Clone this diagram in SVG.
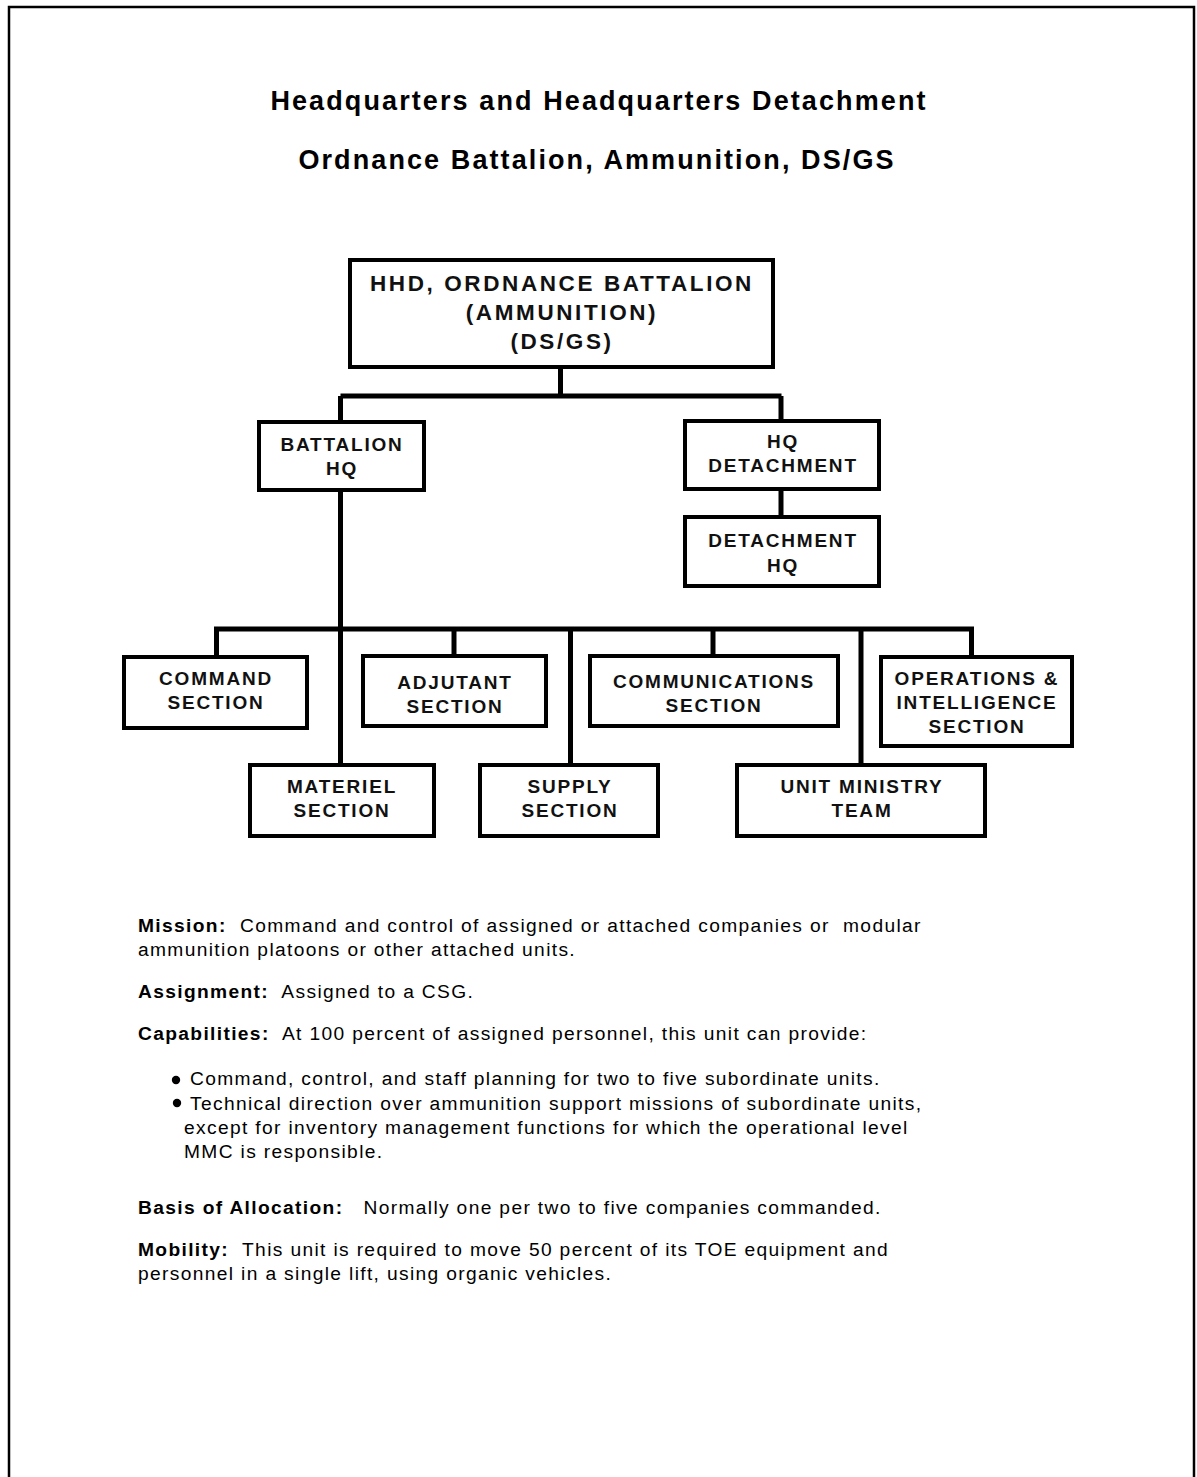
<svg xmlns="http://www.w3.org/2000/svg" width="1197" height="1477" viewBox="0 0 1197 1477">
<style>
.frame{fill:none;stroke:#000;stroke-width:2.5}
.box{fill:#fff;stroke:#000;stroke-width:4}
.ln{fill:none;stroke:#000;stroke-width:5}
.bt{font-family:"Liberation Sans",Arial,sans-serif;font-weight:bold;font-size:19px;letter-spacing:1.8px;text-anchor:middle;fill:#111}
.tt{font-family:"Liberation Sans",Arial,sans-serif;font-weight:bold;font-size:22.5px;letter-spacing:2.6px;text-anchor:middle;fill:#111}
.title{font-family:"Liberation Sans",Arial,sans-serif;font-weight:bold;font-size:27px;letter-spacing:2.1px;text-anchor:middle;fill:#000}
.body{font-family:"Liberation Sans",Arial,sans-serif;font-size:19.2px;letter-spacing:1.35px;fill:#000;white-space:pre}
.b{font-weight:bold}
</style>
<rect width="1197" height="1477" fill="#fff"/>
<path class="frame" d="M9 1477 V7 H1194 V1477"/>
<g id="title">
<text class="title" x="599" y="110">Headquarters and Headquarters Detachment</text>
<text class="title" x="597" y="169">Ordnance Battalion, Ammunition, DS/GS</text>
</g>
<g id="connectors">
<path class="ln" d="M560.5 369 V396"/>
<path class="ln" d="M340.5 396 H781.5"/>
<path class="ln" d="M340.5 396 V420"/>
<path class="ln" d="M781 396 V419"/>
<path class="ln" d="M781 491 V515"/>
<path class="ln" d="M340.5 492 V763"/>
<path class="ln" d="M214 629 H974"/>
<path class="ln" d="M216.5 629 V655"/>
<path class="ln" d="M454 629 V654"/>
<path class="ln" d="M570.5 629 V763"/>
<path class="ln" d="M713 629 V654"/>
<path class="ln" d="M861 629 V763"/>
<path class="ln" d="M971.5 629 V655"/>
</g>
<g id="hhd">
<rect class="box" x="350" y="260" width="423" height="107"/>
<text class="tt" x="562" y="291">HHD, ORDNANCE BATTALION</text>
<text class="tt" x="562" y="320">(AMMUNITION)</text>
<text class="tt" x="562" y="349">(DS/GS)</text>
</g>
<g id="battalion-hq">
<rect class="box" x="259" y="422" width="165" height="68"/>
<text class="bt" x="342" y="451">BATTALION</text>
<text class="bt" x="342" y="475">HQ</text>
</g>
<g id="hq-detachment">
<rect class="box" x="685" y="421" width="194" height="68"/>
<text class="bt" x="783" y="448">HQ</text>
<text class="bt" x="783" y="472">DETACHMENT</text>
</g>
<g id="detachment-hq">
<rect class="box" x="685" y="517" width="194" height="69"/>
<text class="bt" x="783" y="547">DETACHMENT</text>
<text class="bt" x="783" y="572">HQ</text>
</g>
<g id="command">
<rect class="box" x="124" y="657" width="183" height="71"/>
<text class="bt" x="216" y="685">COMMAND</text>
<text class="bt" x="216" y="709">SECTION</text>
</g>
<g id="adjutant">
<rect class="box" x="363" y="656" width="183" height="70"/>
<text class="bt" x="455" y="689">ADJUTANT</text>
<text class="bt" x="455" y="713">SECTION</text>
</g>
<g id="communications">
<rect class="box" x="590" y="656" width="248" height="70"/>
<text class="bt" x="714" y="688">COMMUNICATIONS</text>
<text class="bt" x="714" y="712">SECTION</text>
</g>
<g id="operations">
<rect class="box" x="881" y="657" width="191" height="89"/>
<text class="bt" x="977" y="685">OPERATIONS &amp;</text>
<text class="bt" x="977" y="709">INTELLIGENCE</text>
<text class="bt" x="977" y="733">SECTION</text>
</g>
<g id="materiel">
<rect class="box" x="250" y="765" width="184" height="71"/>
<text class="bt" x="342" y="793">MATERIEL</text>
<text class="bt" x="342" y="817">SECTION</text>
</g>
<g id="supply">
<rect class="box" x="480" y="765" width="178" height="71"/>
<text class="bt" x="570" y="793">SUPPLY</text>
<text class="bt" x="570" y="817">SECTION</text>
</g>
<g id="unit-ministry">
<rect class="box" x="737" y="765" width="248" height="71"/>
<text class="bt" x="862" y="793">UNIT MINISTRY</text>
<text class="bt" x="862" y="817">TEAM</text>
</g>
<g id="description">
<text class="body" x="138" y="932"><tspan class="b">Mission:</tspan>  Command and control of assigned or attached companies or  modular</text>
<text class="body" x="138" y="956">ammunition platoons or other attached units.</text>
<text class="body" x="138" y="998"><tspan class="b">Assignment:</tspan>  Assigned to a CSG.</text>
<text class="body" x="138" y="1040"><tspan class="b">Capabilities:</tspan>  At 100 percent of assigned personnel, this unit can provide:</text>
<circle cx="176" cy="1080" r="4.2"/>
<text class="body" x="190" y="1085">Command, control, and staff planning for two to five subordinate units.</text>
<circle cx="177" cy="1103" r="4.2"/>
<text class="body" x="190" y="1110">Technical direction over ammunition support missions of subordinate units,</text>
<text class="body" x="184" y="1134">except for inventory management functions for which the operational level</text>
<text class="body" x="184" y="1158">MMC is responsible.</text>
<text class="body" x="138" y="1214"><tspan class="b">Basis of Allocation:</tspan>   Normally one per two to five companies commanded.</text>
<text class="body" x="138" y="1256"><tspan class="b">Mobility:</tspan>  This unit is required to move 50 percent of its TOE equipment and</text>
<text class="body" x="138" y="1280">personnel in a single lift, using organic vehicles.</text>
</g>
</svg>
